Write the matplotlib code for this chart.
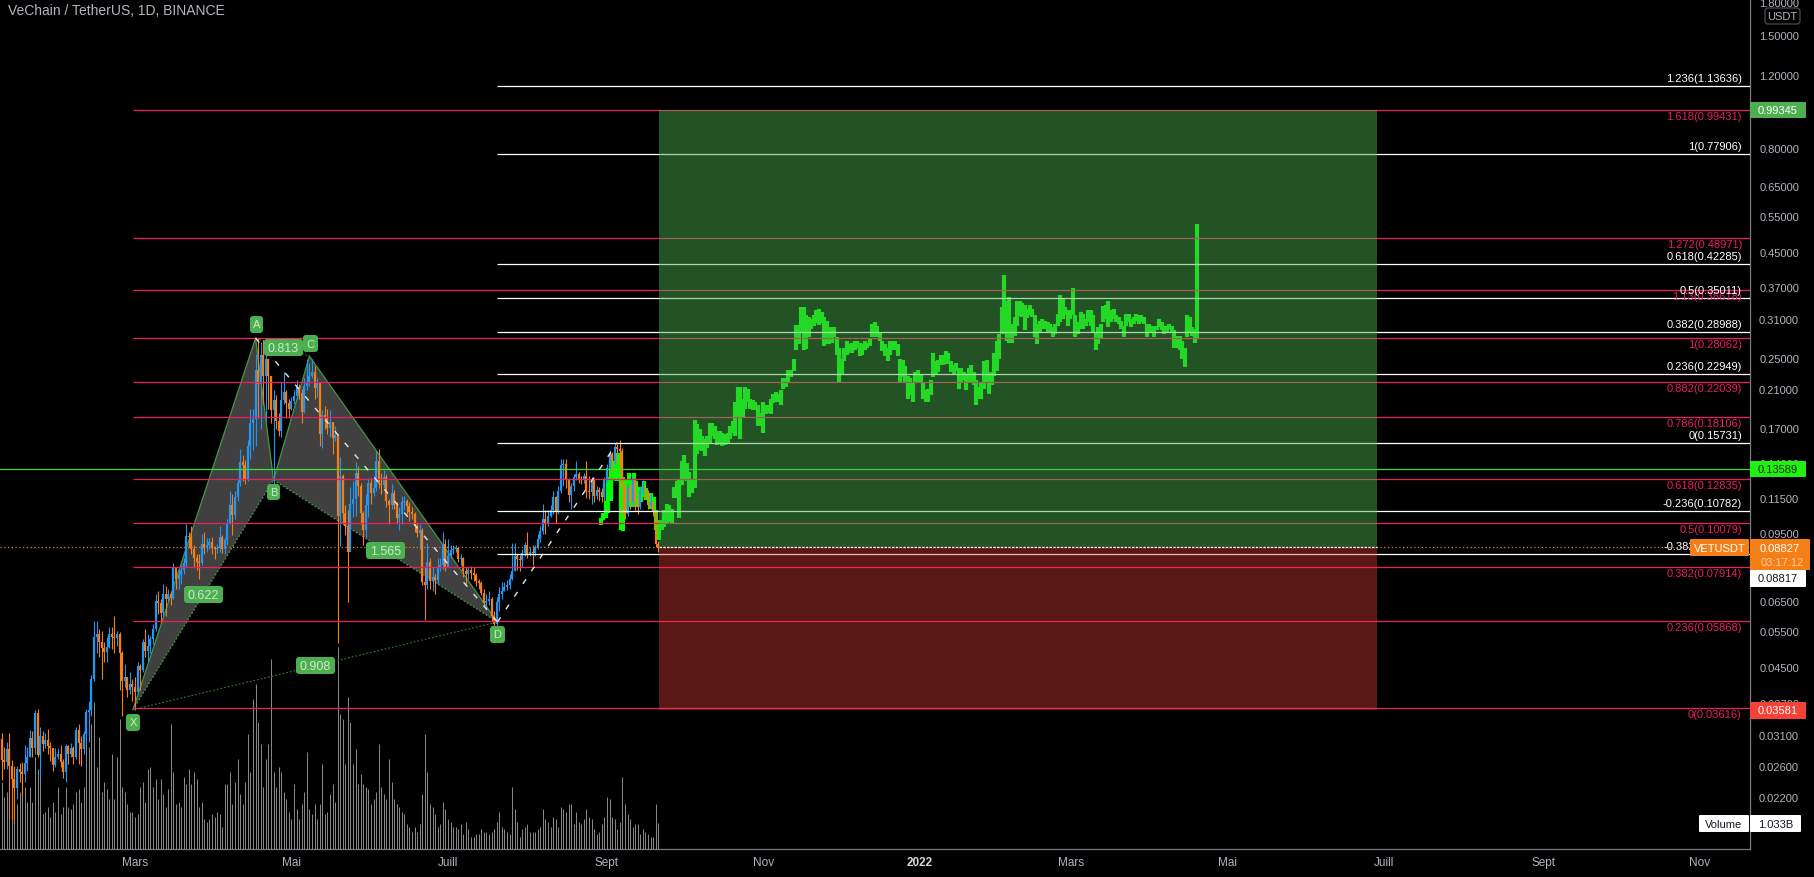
import numpy as np
import matplotlib
matplotlib.use("Agg")
import matplotlib.pyplot as plt
from matplotlib.patches import FancyBboxPatch

plt.rcParams['font.family'] = ['Liberation Sans', 'DejaVu Sans']

first_open = 0.0305
closes = [
    .0271, .0268, .0288, .0262, .0244, .0232, .0258, .0254, .0250, .0266,
    .0276, .0306, .0290, .0352, .0278, .0310, .0296, .0303, .0292, .0290,
    .0263, .0275, .0280, .0268, .0253, .0292, .0280, .0290, .0275, .0320,
    .0298, .0288, .0312, .0353, .0358, .0425, .0535, .0545, .0520, .0505,
    .0492, .0508, .0545, .0535, .0532, .0546, .0490, .0420, .0428, .0400,
    .0412, .0405, .0395, .0455, .0445, .0520, .0495, .0510, .0530, .0560,
    .0653, .0648, .0612, .0680, .0660, .0680, .0665, .0785, .0740, .0755,
    .0775, .0805, .0935, .0930, .0870, .0830, .0810, .0805, .0895, .0880,
    .0890, .0905, .0875, .0870, .0875, .0930, .0870, .0915, .1010, .1110,
    .1055, .1165, .1255, .1410, .1390, .1280, .1540, .1750, .1790, .2350,
    .2180, .2550, .2270, .2500, .2270, .1880, .1990, .1770, .1680, .1990,
    .2080, .1960, .1900, .1980, .2040, .2140, .2070, .1860, .2150, .2200,
    .2280, .2330, .2125, .2190, .1650, .1830, .1800, .1710, .1763, .1612,
    .1640, .1050, .1310, .1065, .0990, .0860, .1117, .1150, .1330, .1240,
    .1063, .0970, .1110, .1254, .1190, .1220, .1420, .1250, .1245, .1300,
    .1135, .1110, .1187, .1115, .1035, .1060, .1130, .1140, .1105, .1070,
    .1060, .0990, .0955, .0970, .0728, .0715, .0810, .0730, .0745, .0735,
    .0790, .0800, .0897, .0790, .0840, .0865, .0870, .0875, .0825, .0830,
    .0770, .0760, .0775, .0765, .0755, .0730, .0722, .0685, .0645, .0655,
    .0660, .0600, .0575, .0650, .0680, .0690, .0705, .0715, .0740, .0770,
    .0840, .0825, .0820, .0855, .0890, .0845, .0860, .0855, .0880, .0920,
    .0965, .1030, .1000, .1050, .1085, .1165, .1070, .1205, .1390, .1400,
    .1279, .1175, .1240, .1300, .1325, .1280, .1275, .1310, .1200, .1195,
    .1280, .1170, .1210, .1195, .1165, .1280, .1370, .1480, .1420, .1535,
    .1520, .1500, .1230, .1060, .1230, .1130, .1280, .1130, .1100, .1210,
    .1220, .1200, .1110, .1130, .1070, .0895, .0883]
highs = [
    .0314, .0291, .0300, .0314, .0271, .0262, .0262, .0267, .0268, .0295,
    .0291, .0320, .0318, .0358, .0360, .0325, .0318, .0315, .0322, .0300,
    .0290, .0290, .0290, .0295, .0272, .0296, .0295, .0298, .0292, .0325,
    .0330, .0310, .0318, .0360, .0375, .0435, .0585, .0585, .0560, .0555,
    .0520, .0535, .0565, .0565, .0600, .0555, .0550, .0495, .0460, .0430,
    .0440, .0425, .0430, .0465, .0460, .0530, .0560, .0545, .0540, .0575,
    .0680, .0690, .0660, .0720, .0710, .0700, .0690, .0805, .0790, .0780,
    .0800, .0830, .1000, .0960, .0990, .0890, .0850, .0850, .0950, .0960,
    .0925, .0925, .0930, .0885, .0895, .0990, .0945, .0925, .1030, .1200,
    .1180, .1200, .1290, .1520, .1470, .1430, .1600, .1900, .1900, .2570,
    .2806, .2740, .2780, .2720, .2500, .2280, .2100, .2050, .1850, .2200,
    .2330, .2100, .2000, .2030, .2100, .2230, .2180, .2120, .2250, .2500,
    .2450, .2500, .2400, .2250, .2140, .1880, .1930, .1900, .1880, .1760,
    .1720, .1650, .1450, .1320, .1110, .1080, .1230, .1270, .1410, .1380,
    .1260, .1075, .1180, .1290, .1290, .1310, .1500, .1520, .1330, .1350,
    .1320, .1150, .1250, .1210, .1130, .1100, .1170, .1170, .1150, .1130,
    .1100, .1070, .1010, .1000, .0980, .0790, .0900, .0830, .0790, .0760,
    .0830, .0830, .0960, .0920, .0920, .0890, .0890, .0890, .0880, .0850,
    .0835, .0790, .0790, .0795, .0790, .0765, .0740, .0730, .0700, .0680,
    .0690, .0670, .0620, .0670, .0705, .0725, .0725, .0735, .0760, .0900,
    .0900, .0850, .0845, .0870, .0905, .0960, .0880, .0890, .0890, .0950,
    .0990, .1120, .1080, .1080, .1110, .1200, .1170, .1240, .1440, .1440,
    .1440, .1290, .1260, .1320, .1420, .1340, .1310, .1330, .1420, .1310,
    .1300, .1290, .1240, .1230, .1220, .1300, .1400, .1510, .1490, .1570,
    .1560, .1600, .1530, .1260, .1260, .1260, .1310, .1290, .1180, .1240,
    .1280, .1240, .1210, .1190, .1140, .1080, .0910]
lows = [
    .0243, .0258, .0258, .0195, .0195, .0190, .0218, .0240, .0222, .0240,
    .0255, .0275, .0275, .0280, .0275, .0245, .0285, .0290, .0280, .0270,
    .0255, .0260, .0272, .0260, .0245, .0240, .0265, .0275, .0265, .0272,
    .0265, .0262, .0280, .0305, .0300, .0345, .0420, .0490, .0480, .0425,
    .0465, .0465, .0505, .0500, .0490, .0510, .0400, .0345, .0405, .0385,
    .0390, .0375, .0358, .0390, .0400, .0440, .0480, .0470, .0490, .0515,
    .0555, .0610, .0580, .0600, .0600, .0655, .0640, .0660, .0700, .0700,
    .0720, .0760, .0790, .0880, .0850, .0790, .0775, .0740, .0800, .0850,
    .0860, .0870, .0850, .0825, .0855, .0860, .0855, .0850, .0890, .1000,
    .0940, .1030, .1140, .1240, .1270, .1250, .1270, .1440, .1510, .1540,
    .1800, .1700, .1950, .1780, .1900, .1750, .1240, .1700, .1630, .1620,
    .1950, .1800, .1800, .1880, .1950, .2000, .2000, .1750, .1850, .2100,
    .2150, .2250, .2000, .2020, .1540, .1530, .1700, .1650, .1620, .1480,
    .1590, .0517, .0885, .1000, .0940, .0650, .0880, .1040, .1050, .1170,
    .1000, .0890, .0930, .1040, .1120, .1170, .1200, .1220, .1180, .1220,
    .1100, .1000, .1090, .1090, .1010, .0970, .1000, .1080, .1060, .1020,
    .1030, .0960, .0930, .0870, .0715, .0590, .0700, .0700, .0690, .0680,
    .0720, .0770, .0780, .0770, .0810, .0830, .0850, .0860, .0810, .0800,
    .0745, .0720, .0740, .0740, .0730, .0710, .0700, .0675, .0635, .0625,
    .0640, .0585, .0550, .0540, .0620, .0660, .0690, .0695, .0700, .0735,
    .0770, .0775, .0770, .0790, .0840, .0830, .0840, .0800, .0840, .0870,
    .0905, .0950, .0950, .0990, .1040, .1060, .1010, .1060, .1190, .1240,
    .1220, .1130, .1090, .1200, .1280, .1260, .1250, .1260, .1160, .1150,
    .1120, .1130, .1150, .1140, .1130, .1140, .1260, .1350, .1330, .1400,
    .1400, .1340, .1040, .1030, .1050, .1090, .1110, .1080, .1060, .1090,
    .1180, .1150, .1090, .1100, .1050, .0880, .0860]
# volume in billions
volumes = [
    2.7, 2.1, 2.3, 4.6, 2.7, 1.8, 1.8, 2.3, 2.2, 2.5,
    1.9, 2.5, 1.9, 3.7, 3.2, 3.0, 1.4, 1.5, 1.7, 1.3,
    1.9, 1.5, 2.5, 1.4, 1.7, 2.5, 1.7, 1.6, 1.8, 2.3,
    2.4, 1.9, 2.5, 5.0, 4.1, 5.0, 5.9, 3.3, 4.5, 2.3,
    2.7, 2.4, 2.0, 3.8, 2.0, 3.7, 5.2, 2.5, 2.3, 1.8,
    1.5, 1.5, 1.3, 1.4, 2.5, 2.7, 1.9, 3.2, 3.3, 2.5,
    2.8, 2.0, 2.8, 2.2, 1.7, 2.4, 5.0, 3.1, 1.8, 1.9,
    1.7, 2.9, 2.6, 3.2, 2.6, 3.1, 2.8, 1.7, 1.9, 1.2,
    1.1, 1.2, 1.4, 1.3, 1.5, 1.4, 0.9, 2.6, 2.6, 3.1,
    1.8, 2.7, 3.6, 2.2, 1.8, 2.7, 4.6, 3.1, 6.0, 6.6,
    5.1, 4.2, 2.5, 3.6, 4.2, 7.6, 3.1, 2.5, 3.3, 3.1,
    2.3, 2.0, 1.5, 1.2, 2.6, 1.6, 1.2, 1.8, 2.3, 3.9,
    1.6, 1.4, 1.8, 1.2, 1.8, 3.4, 1.4, 1.5, 2.2, 2.6,
    1.9, 8.1, 5.4, 5.2, 3.4, 6.1, 5.1, 3.4, 4.0, 2.6,
    3.0, 2.6, 2.5, 2.4, 1.8, 2.0, 2.3, 4.2, 2.5, 2.2,
    2.0, 3.6, 2.7, 2.0, 1.8, 1.7, 1.5, 1.4, 1.0, 0.9,
    0.7, 0.9, 0.7, 1.0, 2.2, 4.6, 3.1, 1.8, 1.7, 1.4,
    0.9, 1.0, 1.9, 1.6, 1.2, 1.1, 0.9, 0.9, 0.8, 1.0,
    0.6, 1.1, 0.8, 0.5, 0.5, 0.6, 0.6, 0.8, 0.7, 0.7,
    0.6, 0.7, 0.8, 1.1, 1.5, 0.9, 0.8, 0.7, 0.6, 2.5,
    1.6, 1.1, 0.5, 0.8, 0.9, 1.0, 0.7, 0.7, 0.7, 0.8,
    0.9, 1.6, 1.2, 1.1, 0.9, 1.3, 1.2, 0.9, 1.7, 1.6,
    1.5, 1.8, 1.8, 1.0, 1.5, 1.1, 1.0, 1.2, 1.6, 1.3,
    1.2, 0.8, 0.6, 0.7, 1.0, 1.3, 2.1, 2.0, 1.3, 1.2,
    0.8, 1.1, 2.9, 1.8, 1.4, 1.2, 0.9, 1.0, 1.0, 0.6,
    0.8, 0.7, 0.6, 0.5, 0.5, 1.8, 1.033]
# projected price path pasted on the right
ghost_highs = [
    .1033, .1062, .1140, .1300, .1430, .1418, .1430, .1482, .1403, .1300,
    .1279, .1326, .1279, .1326, .1268, .1232, .1232, .1268, .1220, .1187,
    .1187, .1165, .1081, .1024, .1024, .1081, .1122, .1110, .1090, .1232,
    .1268, .1279, .1418, .1471, .1403, .1338, .1279, .1780, .1743, .1694,
    .1631, .1601, .1631, .1758, .1758, .1726, .1678, .1678, .1662, .1647,
    .1662, .1726, .1775, .1969, .2143, .2143, .2006, .2143, .2122, .2006,
    .1988, .1969, .1932, .1858, .1969, .1932, .1932, .2006, .2064, .2084,
    .2064, .2104, .2246, .2246, .2354, .2354, .2506, .3012, .3012, .3341,
    .3334, .3184, .3152, .3122, .3184, .3274, .3304, .3244, .3152, .3092,
    .2978, .2978, .2978, .2824, .2660, .2506, .2660, .2762, .2710, .2735,
    .2762, .2762, .2735, .2710, .2762, .2735, .2788, .3038, .3067, .3008,
    .2895, .2762, .2710, .2660, .2762, .2762, .2762, .2710, .2506, .2480,
    .2400, .2274, .2246, .2204, .2326, .2354, .2288, .2183, .2104, .2122,
    .2225, .2586, .2467, .2490, .2562, .2562, .2610, .2586, .2467, .2415,
    .2440, .2376, .2376, .2326, .2306, .2376, .2415, .2326, .2225, .2143,
    .2204, .2467, .2490, .2326, .2326, .2586, .2762, .2868, .3334, .3985,
    .3440, .3528, .3038, .3152, .3440, .3440, .3411, .3381, .3304, .3381,
    .3304, .3184, .3038, .3092, .3122, .3092, .3067, .3038, .2978, .3038,
    .3211, .3559, .3496, .3334, .3274, .3274, .3703, .3184, .3067, .3244,
    .3211, .3122, .3274, .3274, .3184, .2895, .2978, .3038, .3362, .3381,
    .3440, .3274, .3304, .3184, .3152, .3092, .3008, .3211, .3211, .3122,
    .3152, .3211, .3184, .3184, .3152, .3038, .3038, .3008, .3008, .3008,
    .3122, .3067, .3008, .3008, .3038, .3008, .2930, .2845, .2845, .2762,
    .2660, .3184, .3152, .2978, .2955, .5295]
ghost_lows = [
    .0997, .1024, .1033, .1062, .1140, .1279, .1268, .1268, .0971, .0963,
    .1062, .1165, .1101, .1101, .1101, .1122, .1133, .1165, .1144, .1133,
    .1091, .1081, .0971, .0918, .0971, .0987, .1004, .1013, .1004, .1155,
    .1155, .1033, .1244, .1279, .1268, .1165, .1187, .1220, .1480, .1513,
    .1500, .1457, .1527, .1571, .1631, .1601, .1556, .1571, .1541, .1556,
    .1571, .1601, .1662, .1631, .1810, .1601, .1810, .1896, .1969, .1896,
    .1883, .1883, .1726, .1726, .1662, .1842, .1858, .1842, .1955, .1969,
    .1969, .1932, .2122, .2143, .2183, .2262, .2340, .2624, .2720, .2892,
    .2624, .2640, .2824, .2955, .3000, .3050, .3022, .3050, .2685, .2720,
    .2720, .2735, .2824, .2562, .2204, .2288, .2467, .2562, .2586, .2586,
    .2634, .2660, .2537, .2562, .2634, .2660, .2685, .2824, .2824, .2824,
    .2762, .2610, .2537, .2467, .2562, .2634, .2634, .2537, .2183, .2262,
    .2204, .2006, .2044, .1969, .2204, .2204, .2183, .2006, .1969, .1969,
    .2044, .2262, .2288, .2329, .2415, .2415, .2432, .2432, .2329, .2288,
    .2340, .2122, .2183, .2225, .2104, .2204, .2204, .2163, .1932, .2006,
    .2006, .2122, .2183, .2064, .2163, .2274, .2340, .2506, .2868, .2868,
    .2762, .2735, .2735, .2845, .3000, .3169, .3152, .2930, .3136, .3184,
    .3152, .2824, .2720, .2892, .2955, .2955, .2892, .2892, .2824, .2868,
    .3000, .3067, .3122, .3184, .3000, .3122, .3184, .2824, .2868, .2955,
    .2955, .3000, .3067, .3000, .2892, .2624, .2720, .2788, .3067, .3122,
    .2978, .3067, .3122, .3067, .3038, .2955, .2824, .3000, .3067, .2978,
    .3038, .3092, .3038, .3067, .3038, .2824, .2892, .2892, .2824, .2930,
    .2978, .2930, .2868, .2892, .2955, .2892, .2660, .2660, .2634, .2506,
    .2396, .2824, .2892, .2845, .2735, .2788]

# red fib from X-D, white fib from D
red_levels = [.99431, .48971, .36618, .28062, .22039, .18106, .12835, .10079, .07914, .05868, .03616]
red_names = ['1.618', '1.272', '1.13', '1', '0.882', '0.786', '0.618', '0.5', '0.382', '0.236', '0']
white_levels = [1.13636, .77906, .42285, .35011, .28988, .22949, .15731, .10782, .08505]
white_names = ['1.236', '1', '0.618', '0.5', '0.382', '0.236', '0', '-0.236', '-0.382']

# harmonic pattern pivots: day number, price
pivot_days = {'X': 58.2, 'A': 106.0, 'B': 113.0, 'C': 127.0, 'D': 200.3, 'E': 247.0}
pivot_prices = {'X': .0358, 'A': .2806, 'B': .1279, 'C': .2540, 'D': .0582, 'E': .1573}

stop_price = .03581
entry_price = .08817
target_price = .99345
alert_price = .13589
last_price = .08827
box_start = 263.3
box_end = 543.2

price_ticks = [1.8, 1.5, 1.2, .8, .65, .55, .45, .37, .31, .25, .21, .17, .14, .115, .095,
               .065, .055, .045, .037, .031, .026, .022, .019]
month_days = [59, 120, 181, 243, 304, 365, 424, 485, 546, 608, 669]
month_names = ['Mars', 'Mai', 'Juill', 'Sept', 'Nov', '2022', 'Mars', 'Mai', 'Juill', 'Sept', 'Nov']

W, H = 1814, 877
PANE_W, PANE_H = 1750, 849
GREY = '#b2b5be'
AXIS = '#787b86'
PINK = '#e91e63'
BLUE = '#2196f3'
ORANGE = '#f57f17'
TAG = '#4caf50'

fig = plt.figure(figsize=(W / 100, H / 100), dpi=100, facecolor='black')
rect = [0, (H - PANE_H) / H, PANE_W / W, PANE_H / H]

ax_vol = fig.add_axes(rect, zorder=0, facecolor='black')
ax = fig.add_axes(rect, zorder=1)
ax.patch.set_visible(False)

xlim = (6.37, 688.6)
ax.set_xlim(xlim)
ax.set_yscale('log')
ax.set_ylim(0.01654, 1.828)

days = 7 + np.arange(len(closes))

# volume
ax_vol.set_xlim(xlim)
ax_vol.set_ylim(0, 33.96)
ax_vol.vlines(days, 0, volumes, color='#8c8c8c', lw=0.7)
ax_vol.set_axis_off()

# pattern
P = lambda k: (pivot_days[k], pivot_prices[k])
for tri in (('X', 'A', 'B'), ('B', 'C', 'D')):
    ax.fill([P(k)[0] for k in tri], [P(k)[1] for k in tri], color='#404040', lw=0, zorder=1)
for a, b in (('X', 'A'), ('A', 'B'), ('B', 'C'), ('C', 'D')):
    ax.plot(*zip(P(a), P(b)), color='#3f9a44', lw=0.9, zorder=1.2)
for a, b in (('X', 'B'), ('B', 'D')):
    ax.plot(*zip(P(a), P(b)), color='#3f9a44', lw=0.9, ls=(0, (1.5, 1.5)), zorder=1.2)
for a, b in (('X', 'D'), ('A', 'C')):
    ax.plot(*zip(P(a), P(b)), color='#2a6b2e', lw=0.9, ls=(0, (1.5, 1.5)), zorder=1.2)

# ghost feed
ghost_days = 240.5 + 0.99 * np.arange(len(ghost_highs))
ax.vlines(ghost_days, ghost_lows, ghost_highs, color='#00ff00', lw=3.0, zorder=1.5)

# candles
closes_a = np.array(closes)
opens = np.r_[first_open, closes_a[:-1]]
colors = [BLUE if c >= o else ORANGE for o, c in zip(opens, closes_a)]
ax.vlines(days, lows, highs, colors=colors, lw=0.8, zorder=2)
ax.vlines(days, np.minimum(opens, closes_a), np.maximum(opens, closes_a), colors=colors, lw=1.6, zorder=2.1)

# fib lines
d_start = pivot_days['X']
for lv, name in zip(red_levels, red_names):
    ax.hlines(lv, d_start, xlim[1], color=PINK, lw=0.9, zorder=3)
    ax.annotate(f'{name}({lv:.5f})', xy=(1, lv), xycoords=('axes fraction', 'data'),
                xytext=(-8, -7), textcoords='offset pixels', ha='right', va='center',
                fontsize=8, color=PINK, zorder=6, annotation_clip=False)
for lv, name in zip(white_levels, white_names):
    ax.hlines(lv, pivot_days['D'], xlim[1], color='white', lw=0.9, zorder=3)
    ax.annotate(f'{name}({lv:.5f})', xy=(1, lv), xycoords=('axes fraction', 'data'),
                xytext=(-8, 7), textcoords='offset pixels', ha='right', va='center',
                fontsize=8, color='white', zorder=6, annotation_clip=False)

ax.axhline(alert_price, color='#3ddc2f', lw=0.9, zorder=3)
ax.axhline(last_price, color=ORANGE, lw=0.9, ls=(0, (1, 2)), zorder=3)

# dashed legs
for a, b in (('A', 'D'), ('D', 'E')):
    ax.plot(*zip(P(a), P(b)), color='#e6e6e6', lw=1.0, ls=(0, (4, 7)), zorder=3.5)

# long position box
ax.fill_between([box_start, box_end], entry_price, target_price, color='#4caf50', alpha=0.47, lw=0, zorder=4)
ax.fill_between([box_start, box_end], stop_price, entry_price, color='#f44336', alpha=0.37, lw=0, zorder=4)
ax.hlines(entry_price, box_start, box_end, color='white', lw=0.9, ls=(0, (2, 1)), zorder=4.5)

# axes
for s in ('top', 'left'):
    ax.spines[s].set_visible(False)
for s in ('right', 'bottom'):
    ax.spines[s].set_color(AXIS)
    ax.spines[s].set_linewidth(0.9)
ax.minorticks_off()
ax.yaxis.tick_right()
ax.set_yticks(price_ticks)
ax.set_yticklabels([f'{p:.5f}' for p in price_ticks], fontsize=8, color=GREY, ha='right')
ax.tick_params(axis='y', length=0, pad=35.3)
ax.set_xticks(month_days)
ax.set_xticklabels(month_names, fontsize=8.5, color=GREY)
ax.tick_params(axis='x', length=0, pad=6)
ax.get_xticklabels()[5].set_fontweight('bold')
ax.get_xticklabels()[5].set_color('#d8d8d8')

# overlay in pixels for tags and price labels
ov = fig.add_axes([0, 0, 1, 1], zorder=5)
ov.set_xlim(0, W)
ov.set_ylim(H, 0)
ov.set_axis_off()
ov.patch.set_visible(False)


def tag(x0, y0, x1, y1, text, face=TAG, color='#cfe8d0', edge='none', rnd=3, size=8):
    ov.add_patch(FancyBboxPatch((x0, y0), x1 - x0, y1 - y0, boxstyle=f'round,pad=0,rounding_size={rnd}',
                                fc=face, ec=edge, lw=0.8))
    ov.text((x0 + x1) / 2, (y0 + y1) / 2, text, ha='center', va='center_baseline', color=color, fontsize=size)


tag(250, 316, 263, 333, 'A')
tag(267, 484, 280, 500, 'B')
tag(303, 335, 318, 352, 'C')
tag(490, 626, 505, 643, 'D')
tag(126, 714, 140, 731, 'X')
tag(264, 339, 303, 356, '0.813', size=9)
tag(184, 586, 223, 603, '0.622', size=9)
tag(366, 542, 405, 559, '1.565', size=9)
tag(296, 657, 335, 674, '0.908', size=9)

tag(1750, 102, 1806, 118, '0.99345', rnd=0.5, color='white')
tag(1750, 461, 1806, 477, '0.13589', face='#22f010', color='#0c2a0c', rnd=0.5)
tag(1690, 539, 1749, 556, 'VETUSDT', face='#f57f17', color='white', rnd=1)
ov.add_patch(FancyBboxPatch((1750, 539), 60, 31, boxstyle='round,pad=0,rounding_size=1', fc='#f57f17', ec='none'))
ov.text(1780, 547.5, '0.08827', ha='center', va='center_baseline', color='white', fontsize=8)
ov.text(1782, 562, '03:17:12', ha='center', va='center_baseline', color='#fbc99a', fontsize=8)
tag(1750, 570, 1806, 587, '0.08817', face='white', color='#131722', rnd=1)
tag(1750, 702, 1806, 719, '0.03581', face='#f44336', color='white', rnd=0.5)
tag(1699, 815, 1749, 832, 'Volume', face='white', color='#131722', rnd=1)
tag(1750, 815, 1801, 832, '1.033B', face='white', color='#131722', rnd=1)
tag(1765, 8, 1800, 24, 'USDT', face='black', color=GREY, edge='#555555', rnd=3)

ov.text(8, 11, 'VeChain / TetherUS, 1D, BINANCE', color=GREY, fontsize=10, ha='left', va='center')

fig.savefig('out.png', dpi=100, facecolor='black')
